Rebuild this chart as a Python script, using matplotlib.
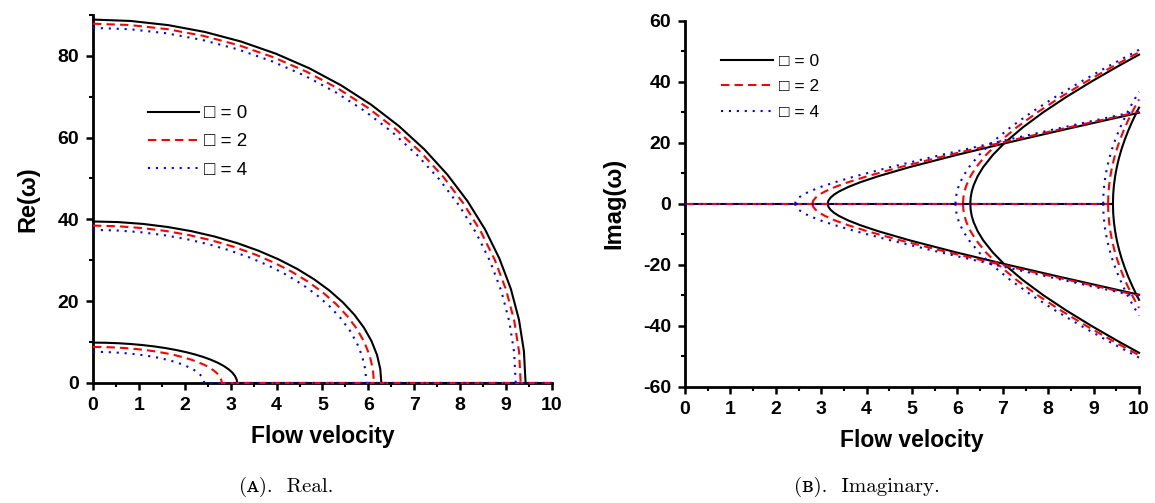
import matplotlib
matplotlib.use("Agg")
import matplotlib.pyplot as plt

plt.rcParams['font.family'] = ['Liberation Sans', 'DejaVu Sans']
plt.rcParams['axes.unicode_minus'] = False

# parameter values of the three series (black, red, blue)
params = [0, 2, 4]
legend_labels = ["\u25a1 = %d" % p for p in params]

# ---- (A) real part: quarter arcs ----
re_mode1_u = [
    [0, 0.274, 0.546, 0.813, 1.075, 1.328, 1.571, 1.802, 2.019, 2.221, 2.407,
     2.573, 2.721, 2.847, 2.952, 3.035, 3.094, 3.130, 3.142, 10],
    [0, 0.245, 0.487, 0.726, 0.960, 1.186, 1.403, 1.609, 1.803, 1.984, 2.149,
     2.298, 2.430, 2.543, 2.636, 2.710, 2.763, 2.795, 2.805, 10],
    [0, 0.211, 0.421, 0.627, 0.829, 1.024, 1.211, 1.390, 1.557, 1.713, 1.856,
     1.985, 2.098, 2.196, 2.277, 2.340, 2.386, 2.414, 2.423, 10],
]
re_mode1 = [
    [9.870, 9.832, 9.720, 9.534, 9.275, 8.945, 8.548, 8.085, 7.561, 6.979, 6.344,
     5.661, 4.935, 4.171, 3.376, 2.555, 1.714, 0.860, 0, 0],
    [8.813, 8.779, 8.679, 8.513, 8.282, 7.987, 7.632, 7.219, 6.751, 6.232, 5.665,
     5.055, 4.407, 3.725, 3.014, 2.281, 1.530, 0.768, 0, 0],
    [7.611, 7.582, 7.495, 7.352, 7.152, 6.898, 6.591, 6.235, 5.830, 5.382, 4.892,
     4.366, 3.806, 3.217, 2.603, 1.970, 1.322, 0.663, 0, 0],
]
re_mode2_u = [
    [0, 0.548, 1.091, 1.626, 2.149, 2.655, 3.142, 3.604, 4.039, 4.443, 4.813,
     5.147, 5.441, 5.695, 5.904, 6.069, 6.188, 6.259, 6.283],
    [0, 0.534, 1.063, 1.584, 2.094, 2.587, 3.061, 3.511, 3.935, 4.329, 4.690,
     5.015, 5.302, 5.548, 5.753, 5.913, 6.029, 6.099, 6.122],
    [0, 0.519, 1.034, 1.542, 2.037, 2.517, 2.978, 3.416, 3.829, 4.212, 4.563,
     4.879, 5.158, 5.398, 5.597, 5.753, 5.866, 5.934, 5.956],
]
re_mode2 = [
    [39.48, 39.33, 38.88, 38.13, 37.10, 35.78, 34.19, 32.34, 30.24, 27.92, 25.38,
     22.64, 19.74, 16.68, 13.50, 10.22, 6.86, 3.44, 0],
    [38.47, 38.32, 37.88, 37.16, 36.15, 34.86, 33.31, 31.51, 29.47, 27.20, 24.73,
     22.06, 19.23, 16.26, 13.16, 9.96, 6.68, 3.35, 0],
    [37.43, 37.28, 36.86, 36.15, 35.17, 33.92, 32.41, 30.66, 28.67, 26.46, 24.06,
     21.47, 18.71, 15.82, 12.80, 9.69, 6.50, 3.26, 0],
]
re_mode3_u = [
    [0, 0.821, 1.637, 2.439, 3.223, 3.983, 4.712, 5.406, 6.058, 6.664, 7.220,
     7.720, 8.162, 8.542, 8.856, 9.104, 9.282, 9.389, 9.425],
    [0, 0.812, 1.618, 2.412, 3.187, 3.938, 4.659, 5.345, 5.990, 6.589, 7.138,
     7.633, 8.070, 8.445, 8.756, 9.001, 9.177, 9.283, 9.318],
    [0, 0.803, 1.599, 2.384, 3.150, 3.892, 4.605, 5.283, 5.920, 6.513, 7.055,
     7.544, 7.976, 8.347, 8.655, 8.896, 9.070, 9.175, 9.210],
]
re_mode3 = [
    [88.83, 88.49, 87.48, 85.80, 83.47, 80.50, 76.93, 72.76, 68.04, 62.81, 57.10,
     50.95, 44.41, 37.54, 30.38, 22.99, 15.42, 7.74, 0],
    [87.82, 87.49, 86.49, 84.83, 82.52, 79.59, 76.06, 71.94, 67.27, 62.10, 56.45,
     50.37, 43.91, 37.12, 30.04, 22.73, 15.25, 7.65, 0],
    [86.80, 86.47, 85.48, 83.85, 81.57, 78.67, 75.17, 71.10, 66.49, 61.38, 55.80,
     49.79, 43.40, 36.68, 29.69, 22.47, 15.07, 7.57, 0],
]

# ---- (B) imaginary part: upper branches (lower ones are mirrored) ----
im_zero_u = [[0, 9.425], [0, 9.318], [0, 9.210]]
im_zero = [[0, 0], [0, 0], [0, 0]]
im_mode1_u = [
    [3.142, 3.158, 3.206, 3.284, 3.390, 3.597, 3.852, 4.252, 4.946, 5.984, 7.099, 8.260, 9.450, 10],
    [2.805, 2.823, 2.877, 2.963, 3.081, 3.307, 3.583, 4.010, 4.739, 5.815, 6.957, 8.138, 9.344, 10],
    [2.423, 2.444, 2.505, 2.604, 2.737, 2.989, 3.292, 3.752, 4.523, 5.640, 6.812, 8.014, 9.236, 10],
]
im_mode1 = [
    [0, 1, 2, 3, 4, 5.5, 7, 9, 12, 16, 20, 24, 28, 29.83],
    [0, 1, 2, 3, 4, 5.5, 7, 9, 12, 16, 20, 24, 28, 30.15],
    [0, 1, 2, 3, 4, 5.5, 7, 9, 12, 16, 20, 24, 28, 30.48],
]
im_mode2_u = [
    [6.283, 6.291, 6.315, 6.355, 6.444, 6.567, 6.780, 7.043, 7.437, 7.891, 8.397, 8.945, 9.527, 10],
    [6.122, 6.130, 6.155, 6.196, 6.287, 6.413, 6.630, 6.900, 7.301, 7.764, 8.277, 8.832, 9.422, 10],
    [5.956, 5.965, 5.990, 6.032, 6.126, 6.255, 6.478, 6.754, 7.163, 7.634, 8.155, 8.718, 9.315, 10],
]
im_mode2 = [
    [0, 2, 4, 6, 9, 12, 16, 20, 25, 30, 35, 40, 45, 48.88],
    [0, 2, 4, 6, 9, 12, 16, 20, 25, 30, 35, 40, 45, 49.68],
    [0, 2, 4, 6, 9, 12, 16, 20, 25, 30, 35, 40, 45, 50.47],
]
im_mode3_u = [
    [9.425, 9.430, 9.446, 9.473, 9.510, 9.558, 9.616, 9.685, 9.763, 9.851, 9.948, 10],
    [9.318, 9.323, 9.340, 9.367, 9.405, 9.453, 9.512, 9.581, 9.660, 9.748, 9.847, 9.954, 10],
    [9.210, 9.216, 9.232, 9.259, 9.298, 9.347, 9.406, 9.476, 9.556, 9.645, 9.745, 9.853, 9.971, 10],
]
im_mode3 = [
    [0, 3, 6, 9, 12, 15, 18, 21, 24, 27, 30, 31.51],
    [0, 3, 6, 9, 12, 15, 18, 21, 24, 27, 30, 33, 34.21],
    [0, 3, 6, 9, 12, 15, 18, 21, 24, 27, 30, 33, 36, 36.71],
]

colors = ['black', 'red', 'blue']
linestyles = ['-', (0, (4, 2.5)), (0, (1, 2.8))]
line_kw = dict(lw=1.5, clip_on=False, zorder=3)

fig = plt.figure(figsize=(11.55, 5.03), dpi=100)
ax1 = fig.add_axes([0.0805, 0.2386, 0.3974, 0.732])
ax2 = fig.add_axes([0.5931, 0.2312, 0.3931, 0.7276])

handles = []
for i in range(3):
    c, ls = colors[i], linestyles[i]
    h, = ax1.plot(re_mode1_u[i], re_mode1[i], color=c, ls=ls, **line_kw)
    ax1.plot(re_mode2_u[i], re_mode2[i], color=c, ls=ls, **line_kw)
    ax1.plot(re_mode3_u[i], re_mode3[i], color=c, ls=ls, **line_kw)
    handles.append(h)

    ax2.plot(im_zero_u[i], im_zero[i], color=c, ls=ls, **line_kw)
    for u, v in [(im_mode1_u[i], im_mode1[i]), (im_mode2_u[i], im_mode2[i]),
                 (im_mode3_u[i], im_mode3[i])]:
        ax2.plot(u, v, color=c, ls=ls, **line_kw)
        ax2.plot(u, [-x for x in v], color=c, ls=ls, **line_kw)

ax1.set_xlim(0, 10)
ax1.set_ylim(0, 90)
ax1.set_xticks(range(0, 11))
ax1.set_xticks([x + 0.5 for x in range(10)], minor=True)
ax1.set_yticks(range(0, 81, 20))
ax1.set_yticks(range(10, 91, 20), minor=True)
ax1.set_ylabel('Re(\u03c9)', fontsize=17, fontweight='bold', labelpad=13)

ax2.set_xlim(0, 10)
ax2.set_ylim(-60, 60)
ax2.set_xticks(range(0, 11))
ax2.set_xticks([x + 0.5 for x in range(10)], minor=True)
ax2.set_yticks(range(-60, 61, 20))
ax2.set_yticks(range(-50, 51, 20), minor=True)
ax2.set_ylabel('Imag(\u03c9)', fontsize=17, fontweight='bold', labelpad=13)

for ax in (ax1, ax2):
    ax.set_xlabel('Flow velocity', fontsize=16.5, fontweight='bold', labelpad=8)
    ax.spines['top'].set_visible(False)
    ax.spines['right'].set_visible(False)
    ax.spines['left'].set_linewidth(2)
    ax.spines['bottom'].set_linewidth(2)
    ax.tick_params(which='major', direction='out', length=5, width=1.8,
                   labelsize=14, pad=5)
    ax.tick_params(which='minor', direction='out', length=3, width=1.5)
    for lbl in ax.get_xticklabels() + ax.get_yticklabels():
        lbl.set_fontweight('bold')

ax1.legend(handles, legend_labels, loc='upper left', bbox_to_anchor=(0.12, 0.755),
           frameon=False, prop={'family': ['Liberation Sans', 'DejaVu Sans'], 'size': 13.5},
           handlelength=2.7, handletextpad=0.3, labelspacing=0.6,
           borderpad=0, borderaxespad=0)
ax2.legend(handles, legend_labels, loc='upper left', bbox_to_anchor=(0.08, 0.91),
           frameon=False, prop={'family': ['Liberation Sans', 'DejaVu Sans'], 'size': 12.5},
           handlelength=3.0, handletextpad=0.3, labelspacing=0.6,
           borderpad=0, borderaxespad=0)

cap_font = ['cmr10', 'DejaVu Serif']
fig.text(0.248, 0.032, '(\u1d00).  Real.', family=cap_font, fontsize=15, ha='center', va='center')
fig.text(0.751, 0.032, '(\u0299).  Imaginary.', family=cap_font, fontsize=15, ha='center', va='center')

fig.savefig('out.png', dpi=100)
